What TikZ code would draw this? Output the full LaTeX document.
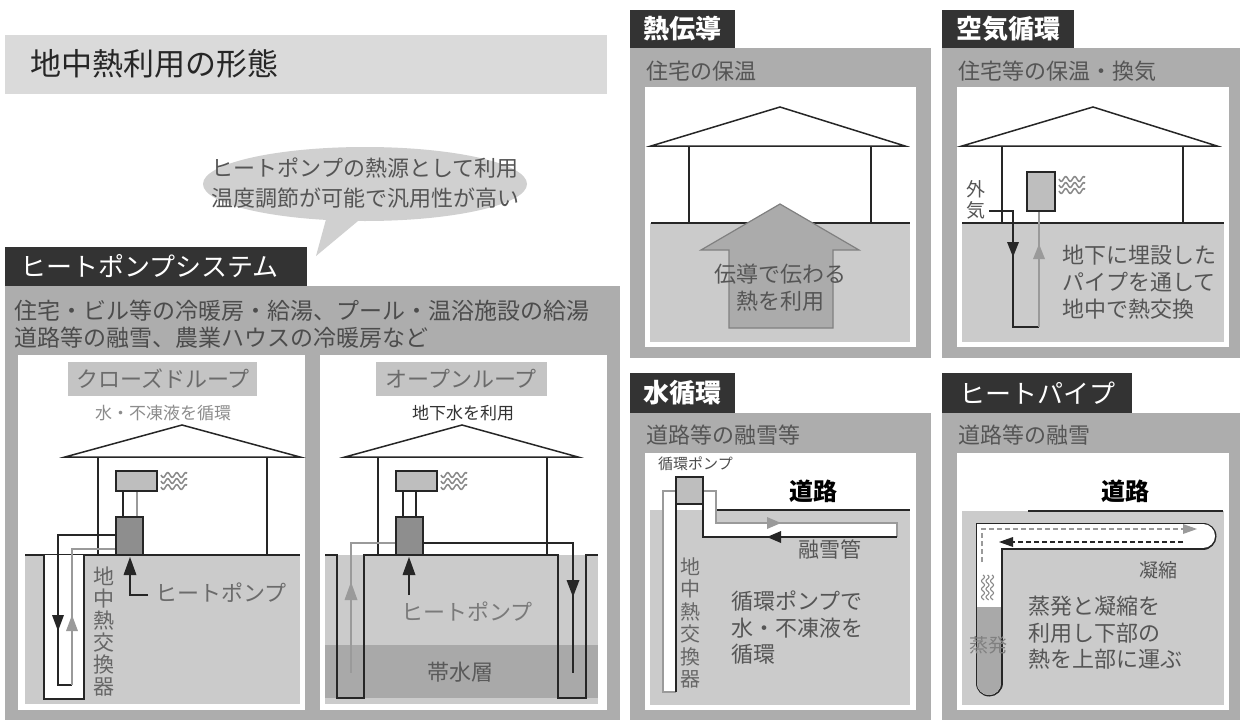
\documentclass[tikz,border=0pt]{standalone}
\usepackage{fontspec}
\setmainfont{Noto Sans CJK JP}
\newcommand\fsz[2]{\fontsize{#1}{#2}\selectfont}

\definecolor{titlebg}{HTML}{DADADA}
\definecolor{bubblebg}{HTML}{D0D0D0}
\definecolor{tagbg}{HTML}{333333}
\definecolor{panelbg}{HTML}{ADADAD}
\definecolor{groundc}{HTML}{CBCBCB}
\definecolor{aquic}{HTML}{A9A9A9}
\definecolor{unitc}{HTML}{BEBEBE}
\definecolor{pumpc}{HTML}{8E8E8E}
\definecolor{inkc}{HTML}{262626}
\definecolor{pipeg}{HTML}{9A9A9A}
\definecolor{wavec}{HTML}{8A8A8A}
\definecolor{txtc}{HTML}{555555}
\definecolor{lblc}{HTML}{C4C4C4}
\definecolor{arrowc}{HTML}{ABABAB}

\tikzset{
  note/.style={text=txtc, inner sep=0, anchor=west},
  cnote/.style={text=txtc, inner sep=0, anchor=center},
  ink/.style={draw=inkc, line width=1.5},
  gpipe/.style={draw=pipeg, line width=1.5},
  unitbox/.style={fill=unitc, draw=inkc, line width=1.5},
  pumpbox/.style={fill=pumpc, draw=inkc, line width=1.5},
  waves/.pic={\foreach \dy in {0,6,12}{\draw[wavec, line width=1.5]
      plot[domain=0:26, samples=40, smooth] (\x, {\dy+2.4*sin(\x*40)});}},
}

\begin{document}
\begin{tikzpicture}[x=1pt, y=-1pt]
\useasboundingbox (0,0) rectangle (1240,720);
\fill[white] (0,0) rectangle (1240,720);

% ---------- heading ----------
\fill[titlebg] (5,35) rectangle (607,94);
\node[anchor=west, inner sep=0, text=inkc, font=\fsz{31}{36}] (ttl) at (30,64) {地中熱利用の形態};

% speech bubble
\fill[bubblebg] (365,184) ellipse [x radius=162pt, y radius=37pt];
\fill[bubblebg] (328,212) -- (364,216) -- (316,256) -- cycle;
\node[cnote, align=center, font=\fsz{22}{30}] (bub) at (365,183)
  {ヒートポンプの熱源として利用\\温度調節が可能で汎用性が高い};

% ---------- heat pump system panel ----------
\fill[tagbg] (5,247) rectangle (307,286);
\node[anchor=west, inner sep=0, text=white, font=\fsz{26}{30}] (hpsys) at (20,266) {ヒートポンプシステム};
\fill[panelbg] (5,286) rectangle (620,720);
\node[note, text=black!70, font=\fsz{23}{28}] (use1) at (14,311) {住宅・ビル等の冷暖房・給湯、プール・温浴施設の給湯};
\node[note, text=black!70, font=\fsz{23}{28}] (use2) at (14,338) {道路等の融雪、農業ハウスの冷暖房など};
\fill[white] (18,355) rectangle (305,710);
\fill[white] (320,355) rectangle (607,710);

% --- closed loop ---
\fill[lblc] (68,362) rectangle (257,396);
\node[cnote, text=black!58, font=\fsz{22}{26}] (cl) at (163,379) {クローズドループ};
\node[cnote, text=black!45, font=\fsz{17}{20}] (clsub) at (163,413) {水・不凍液を循環};
\fill[groundc] (25,555) rectangle (300,704);
\draw[ink] (65,457) -- (182,425) -- (300,457) -- cycle;
\draw[ink] (98,457) -- (98,555) (267,457) -- (267,555);
\draw[ink] (25,555) -- (300,555);
\filldraw[fill=white, ink] (44,555) -- (44,699) -- (84,699) -- (84,555);
\draw[ink] (123,491) -- (123,517);
\draw[gpipe] (137,491) -- (137,517);
\draw[unitbox] (116,471) rectangle (157,491);
\pic at (161,475) {waves};
\draw[ink] (116,535) -- (58,535) -- (58,685) -- (72,685);
\draw[gpipe] (72,685) -- (72,549) -- (116,549);
\draw[pumpbox] (116,517) rectangle (143,555);
\fill[inkc] (58,631) -- ++(-6,-16) -- ++(12,0) -- cycle;
\fill[pipeg] (72,615) -- ++(-6,16) -- ++(12,0) -- cycle;
\draw[ink] (148,595) -- (130,595) -- (130,572);
\fill[inkc] (130,557) -- ++(-6.5,18) -- ++(13,0) -- cycle;
\node[note, text=black!58, font=\fsz{22}{26}] (clhp) at (155,593) {ヒートポンプ};
\node[cnote, text=black!60, align=center, font=\fsz{21}{22}] (clhx) at (104,632) {地\\中\\熱\\交\\換\\器};

% --- open loop ---
\fill[lblc] (376,362) rectangle (547,396);
\node[cnote, text=black!58, font=\fsz{22}{26}] (ol) at (461,379) {オープンループ};
\node[cnote, text=black!80, font=\fsz{17}{20}] (olsub) at (463,413) {地下水を利用};
\fill[groundc] (325,555) rectangle (598,704);
\fill[aquic] (325,645) rectangle (598,698);
\draw[ink] (345,457) -- (462,425) -- (578,457) -- cycle;
\draw[ink] (378,457) -- (378,555) (547,457) -- (547,555);
\draw[ink] (325,555) -- (337,555) -- (337,698) -- (364,698) -- (364,555)
  -- (558,555) -- (558,698) -- (586,698) -- (586,555) -- (598,555);
\draw[ink] (403,491) -- (403,517) (416,491) -- (416,517);
\draw[unitbox] (396,471) rectangle (437,491);
\pic at (441,475) {waves};
\draw[gpipe] (396,543) -- (351,543) -- (351,673);
\draw[ink] (423,543) -- (573,543) -- (573,673);
\draw[pumpbox] (396,517) rectangle (423,555);
\fill[pipeg] (351,582) -- ++(-6.5,18) -- ++(13,0) -- cycle;
\fill[inkc] (573,597) -- ++(-6.5,-17) -- ++(13,0) -- cycle;
\draw[ink] (409,595) -- (409,572);
\fill[inkc] (409,557) -- ++(-6.5,18) -- ++(13,0) -- cycle;
\node[cnote, text=black!52, font=\fsz{22}{26}] (olhp) at (467,612) {ヒートポンプ};
\node[cnote, text=black!65, font=\fsz{22}{26}] (aqui) at (460,672) {帯水層};

% ---------- heat conduction ----------
\fill[tagbg] (630,10) rectangle (735,48);
\node[anchor=center, inner sep=0, text=white, font=\fsz{26}{30}\bfseries] (cond) at (682,29) {熱伝導};
\fill[panelbg] (630,48) rectangle (931,358);
\node[note, font=\fsz{22}{26}] (condu) at (646,71) {住宅の保温};
\fill[white] (645,87) rectangle (916,347);
\fill[groundc] (650,223) rectangle (910,342);
\draw[ink] (651,146) -- (780,107) -- (905,146) -- cycle;
\draw[ink] (689,146) -- (689,223) (871,146) -- (871,223);
\draw[ink] (651,223) -- (910,223);
\filldraw[fill=arrowc, draw=black!50, line width=1.2]
  (780,204) -- (859,250) -- (833,250) -- (833,328) -- (729,328) -- (729,250) -- (701,250) -- cycle;
\node[cnote, align=center, font=\fsz{22}{27}] (condt) at (780,288) {伝導で伝わる\\熱を利用};

% ---------- air circulation ----------
\fill[tagbg] (942,10) rectangle (1074,48);
\node[anchor=center, inner sep=0, text=white, font=\fsz{26}{30}\bfseries] (air) at (1008,29) {空気循環};
\fill[panelbg] (942,48) rectangle (1240,358);
\node[note, font=\fsz{22}{26}] (airu) at (958,71) {住宅等の保温・換気};
\fill[white] (957,87) rectangle (1229,347);
\fill[groundc] (962,223) rectangle (1224,342);
\draw[ink] (962,146) -- (1093,107) -- (1217,146) -- cycle;
\draw[ink] (1002,146) -- (1002,223) (1183,146) -- (1183,223);
\draw[ink] (962,223) -- (1224,223);
\draw[ink] (989,211) -- (1013,211) -- (1013,327) -- (1039,327);
\draw[gpipe] (1039,327) -- (1039,211);
\draw[unitbox] (1027,172) rectangle (1055,211);
\pic at (1059,179) {waves};
\fill[inkc] (1013,257) -- ++(-6,-15) -- ++(12,0) -- cycle;
\fill[pipeg] (1039,244) -- ++(-6,15) -- ++(12,0) -- cycle;
\node[cnote, align=center, font=\fsz{19}{21}] (outair) at (976,200) {外\\気};
\node[note, align=left, font=\fsz{22}{27}] (airt) at (1062,282) {地下に埋設した\\パイプを通して\\地中で熱交換};

% ---------- water circulation ----------
\fill[tagbg] (630,373) rectangle (735,413);
\node[anchor=center, inner sep=0, text=white, font=\fsz{26}{30}\bfseries] (water) at (682,393) {水循環};
\fill[panelbg] (630,413) rectangle (931,720);
\node[note, font=\fsz{22}{26}] (wateru) at (646,435) {道路等の融雪等};
\fill[white] (645,453) rectangle (916,710);
\fill[groundc] (650,510) rectangle (910,705);
\draw[ink] (716,510) -- (910,510);
\node[cnote, text=black, font=\fsz{24}{28}\bfseries] (road1) at (813,491) {道路};
\node[note, text=black!70, font=\fsz{15}{18}] (pumpl) at (658,464) {循環ポンプ};
\fill[white] (663,491) -- (716,491) -- (716,523) -- (897,523) -- (897,537) -- (703,537)
  -- (703,504) -- (676,504) -- (676,692) -- (663,692) -- cycle;
\draw[gpipe] (676,491) -- (663,491) -- (663,692) -- (676,692);
\draw[ink] (676,504) -- (676,692);
\draw[gpipe] (703,491) -- (716,491) -- (716,523) -- (897,523) -- (897,537);
\draw[ink] (703,504) -- (703,537) -- (897,537);
\draw[unitbox] (676,477) rectangle (703,504);
\fill[pipeg] (781,523) -- ++(-14,-6) -- ++(0,12) -- cycle;
\fill[inkc] (767,537) -- ++(14,-6) -- ++(0,12) -- cycle;
\node[cnote, font=\fsz{21}{24}] (snowp) at (830,549) {融雪管};
\node[cnote, text=black!60, align=center, font=\fsz{20}{22.5}] (whx) at (690,623) {地\\中\\熱\\交\\換\\器};
\node[note, align=left, font=\fsz{22}{26.5}] (watert) at (731,628) {循環ポンプで\\水・不凍液を\\循環};

% ---------- heat pipe ----------
\fill[tagbg] (942,373) rectangle (1132,413);
\node[anchor=center, inner sep=0, text=white, font=\fsz{26}{30}] (hpipe) at (1037,393) {ヒートパイプ};
\fill[panelbg] (942,413) rectangle (1240,720);
\node[note, font=\fsz{22}{26}] (hpipeu) at (958,435) {道路等の融雪};
\fill[white] (957,453) rectangle (1229,710);
\fill[groundc] (962,511) rectangle (1224,705);
\draw[ink] (1028,511) -- (1223,511);
\node[cnote, text=black, font=\fsz{24}{28}\bfseries] (road2) at (1125,491) {道路};
\draw[inkc, line width=27, line cap=round, line join=miter] (989,683) -- (989,536) -- (1203,536);
\draw[white, line width=24, line cap=round, line join=miter] (989,683) -- (989,536) -- (1203,536);
\begin{scope}
  \clip (960,607) rectangle (1020,705);
  \draw[aquic, line width=24, line cap=round] (989,590) -- (989,683);
\end{scope}
\draw[pipeg, line width=1.4, dash pattern=on 5pt off 3pt] (982,562) -- (982,529) -- (1184,529);
\fill[pipeg] (1197,529) -- ++(-14,-5) -- ++(0,10) -- cycle;
\draw[inkc, line width=1.4, dash pattern=on 5pt off 3pt] (1183,542) -- (1012,542);
\fill[inkc] (999,542) -- ++(14,-5) -- ++(0,10) -- cycle;
\foreach \wx in {983,987.5,992}
  \draw[wavec, line width=1.1] plot[domain=0:25, samples=40, smooth] ({\wx+1.5*sin(\x*45)}, {575+\x});
\node[cnote, font=\fsz{19}{22}] (cond2) at (1158,570) {凝縮};
\node[cnote, text=black!50, font=\fsz{19}{22}] (evap) at (988,645) {蒸発};
\node[note, align=left, font=\fsz{22}{26.5}] (hpipet) at (1028,633) {蒸発と凝縮を\\利用し下部の\\熱を上部に運ぶ};

\end{tikzpicture}
\end{document}
